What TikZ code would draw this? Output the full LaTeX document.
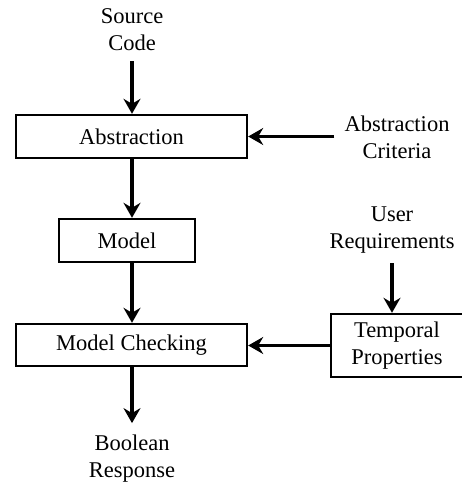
\documentclass[tikz,border=0pt]{standalone}
\usepackage{fontspec}
\setmainfont{Liberation Serif}
\usetikzlibrary{arrows.meta}
\begin{document}
\begin{tikzpicture}[x=1pt,y=-1pt,
  every node/.style={font=\fontsize{22.5}{27}\selectfont},
  blk/.style={draw,line width=2.4pt,minimum height=43pt,inner sep=0pt},
  lbl/.style={align=center,inner sep=0pt},
  arr/.style={line width=3.6pt,-{Stealth[length=15pt,width=17pt,inset=5pt]}}]
\useasboundingbox (0,0) rectangle (461,485);
\node[blk,minimum width=231pt] (abs) at (131.5,136.5) {Abstraction};
\node[blk,minimum width=136pt] (mod) at (127,240.5) {Model};
\node[blk,minimum width=231pt,minimum height=42pt] (mc) at (131.5,345) {Model Checking};
\node[blk,minimum width=132pt,minimum height=63pt,align=center] (tp) at (397,345.5) {Temporal\\Properties};
\node[lbl] (src) at (132,30) {Source\\Code};
\node[lbl] (crit) at (397,137) {Abstraction\\Criteria};
\node[lbl] (usr) at (392,230) {User\\Requirements};
\node[lbl] (bool) at (132,459) {Boolean\\Response};
\draw[arr,shorten <=10pt] (src.south) -- (src.south |- abs.north);
\draw[arr,shorten <=10pt] (crit.west |- abs.east) -- (abs.east);
\draw[arr] (abs.south -| src.south) -- (src.south |- mod.north);
\draw[arr] (mod.south -| src.south) -- (src.south |- mc.north);
\draw[arr,shorten <=10pt] (usr.south) -- (usr.south |- tp.north);
\draw[arr] (tp.west) -- (mc.east |- tp.west);
\draw[arr,shorten >=12pt] (mc.south -| src.south) -- (bool.north);
\end{tikzpicture}
\end{document}
